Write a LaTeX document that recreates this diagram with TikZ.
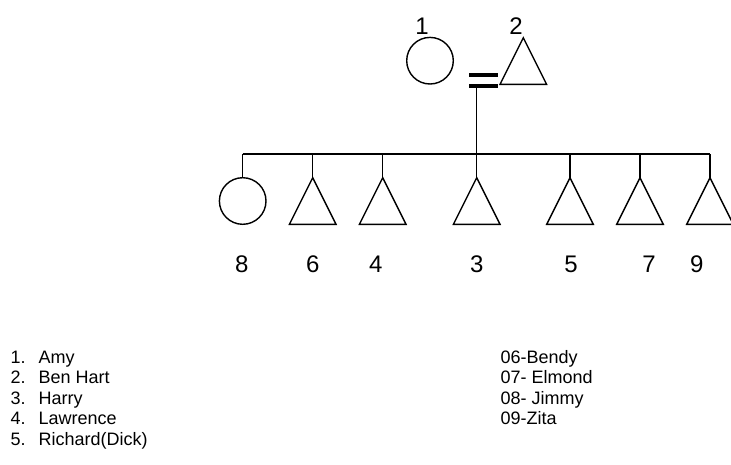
\documentclass[tikz,border=0pt]{standalone}
\usepackage{fontspec}
\setmainfont{Liberation Sans}
\begin{document}
\begin{tikzpicture}[x=1pt,y=-1pt,
  line width=1.4pt,
  female/.style={circle,draw,minimum size=46.6pt,inner sep=0pt,line width=1.4pt},
  num/.style={font=\fontsize{24}{28}\selectfont,inner sep=0pt},
  item/.style={font=\fontsize{18}{21}\selectfont,inner sep=0pt,anchor=base west},
  male/.pic={\draw[line width=1.4pt] (0,0) -- (-23.3,46.6) -- (23.3,46.6) -- cycle;}]
\useasboundingbox (0,0) rectangle (731,464);
\clip (0,0) rectangle (731,464);

% parents
\node[female] (p1) at (430,60.7) {};
\coordinate (p2) at (523.3,37.7);
\pic at (p2) {male};
\node[num] (l1) at (422,26) {1};
\node[num] (l2) at (516,26) {2};

% marriage (consanguineous double line) and descent line
\coordinate (mA) at (469,75);
\coordinate (mB) at (498,75);
\coordinate (mC) at (469,86);
\coordinate (mD) at (498,86);
\draw[line width=3.2pt] (mA) -- (mB);
\draw[line width=3.2pt] (mC) -- (mD);
\coordinate (drop) at (476.7,86);
\coordinate (sibL) at (242.7,154);
\coordinate (sibR) at (710,154);
\coordinate (sibM) at (476.7,154);
\draw (drop) -- (sibM);
\draw (sibL) -- (sibR);

% children
\node[female] (c8) at (242.7,201) {};
\draw (sibL) -- (c8.north);
\foreach \n/\x in {c6/312.7,c4/382.7,c3/476.7,c5/570,c7/640,c9/710}{
  \coordinate (\n) at (\x,177.7);
  \coordinate (\n top) at (\x,154);
  \pic at (\n) {male};
  \draw (\n top) -- (\n);
}

% child numbers
\node[num] (n8) at (241.7,264) {8};
\node[num] (n6) at (312.7,264) {6};
\node[num] (n4) at (375.7,264) {4};
\node[num] (n3) at (476.7,264) {3};
\node[num] (n5) at (571,264) {5};
\node[num] (n7) at (649,264) {7};
\node[num] (n9) at (696.7,264) {9};

% legend
\foreach \i/\t/\y in {1/Amy/363,2/Ben Hart/383.5,3/Harry/404,4/Lawrence/424.5,5/Richard(Dick)/445}{
  \node[item] (k\i) at (10,\y) {\i.};
  \node[item] (t\i) at (38,\y) {\t};
}
\node[item] (r6) at (500,363) {06-Bendy};
\node[item] (r7) at (500,383.5) {07- Elmond};
\node[item] (r8) at (500,404) {08- Jimmy};
\node[item] (r9) at (500,424.5) {09-Zita};
\end{tikzpicture}
\end{document}
